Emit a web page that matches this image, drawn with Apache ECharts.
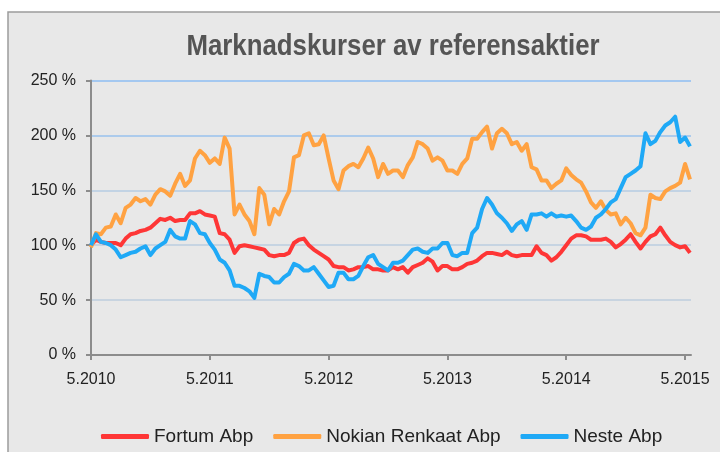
<!DOCTYPE html>
<html>
<head>
<meta charset="utf-8">
<script src="https://cdn.jsdelivr.net/npm/echarts@6/dist/echarts.min.js"></script>
<style>
  html, body { margin: 0; padding: 0; background: #fff; }
  #chart { width: 720px; height: 452px; }
</style>
</head>
<body>
<div id="chart"></div>
<script>
// värden i % (start 5.2010 = 100), avlästa varje halvmånad
const seriesNames = ['Fortum Abp', 'Nokian Renkaat Abp', 'Neste Abp'];
const yearTicks = [0, 12, 24, 36, 48, 60]; // månader efter 5.2010
const tickYears = ['5.2010', '5.2011', '5.2012', '5.2013', '5.2014', '5.2015'];

const fortum = [
  100, 105, 103, 102, 102, 102, 100, 106, 110, 111, 113, 114, 116, 120, 124, 123,
  125, 122, 123, 123, 129, 129, 131, 128, 127, 126, 111, 110, 105, 93, 99, 100,
  99, 98, 97, 96, 91, 90, 91, 91, 93, 102, 105, 106, 100, 96, 93, 90,
  87, 81, 80, 80, 77, 78, 80, 80, 81, 78, 78, 77, 77, 80, 78, 80,
  75, 80, 82, 84, 88, 85, 77, 81, 81, 78, 78, 80, 83, 84, 86, 90,
  93, 93, 92, 91, 94, 91, 90, 91, 91, 91, 99, 93, 91, 86, 89, 94,
  100, 106, 109, 109, 108, 105, 105, 105, 106, 103, 98, 101, 105, 110, 103, 97,
  103, 108, 110, 116, 109, 103, 100, 98, 99, 93
];
const nokian = [
  98, 111, 110, 116, 117, 128, 120, 134, 137, 143, 140, 142, 137, 146, 151, 149,
  145, 156, 165, 154, 159, 179, 186, 182, 175, 179, 174, 198, 188, 128, 137, 128,
  122, 110, 152, 146, 119, 133, 128, 140, 149, 180, 182, 200, 202, 191, 192, 200,
  179, 159, 151, 168, 172, 174, 171, 179, 189, 179, 162, 174, 165, 168, 168, 162,
  173, 180, 194, 192, 188, 177, 180, 177, 168, 168, 165, 174, 179, 197, 197, 203,
  208, 188, 202, 206, 202, 192, 194, 186, 192, 171, 169, 159, 159, 152, 156, 159,
  170, 164, 160, 157, 149, 139, 134, 140, 132, 128, 129, 119, 125, 120, 111, 109,
  116, 146, 143, 142, 149, 152, 154, 157, 174, 160
];
const neste = [
  100, 110, 103, 102, 100, 96, 89, 91, 93, 94, 97, 99, 91, 97, 100, 103,
  114, 108, 106, 106, 122, 119, 111, 110, 102, 96, 87, 84, 77, 63, 63, 61,
  58, 52, 74, 72, 71, 66, 66, 71, 74, 83, 81, 77, 77, 80, 74, 68,
  62, 63, 75, 75, 69, 69, 72, 81, 89, 91, 83, 80, 77, 84, 84, 86,
  91, 96, 97, 94, 93, 97, 97, 102, 102, 91, 90, 93, 93, 111, 116, 133,
  143, 137, 129, 125, 120, 113, 119, 122, 114, 128, 128, 129, 126, 129, 126, 127,
  126, 127, 122, 116, 114, 117, 125, 128, 133, 139, 142, 152, 162, 165, 168, 172,
  202, 192, 195, 203, 209, 212, 217, 194, 198, 190
];
const colors = ['#fe3636', '#ffa242', '#1fa9f6'];

// halvmånadsgrid för x
const months = fortum.map((_, i) => i * 0.5);
const pairs = arr => arr.map((v, i) => [months[i], v]);

const chart = echarts.init(document.getElementById('chart'));
const font = '"Liberation Sans", Arial, sans-serif';

chart.setOption({
  animation: false,
  backgroundColor: '#ffffff',
  graphic: [
    {
      type: 'rect',
      z: -10,
      shape: { x: 8, y: 12, width: 800, height: 520 },
      style: { fill: '#e8e8e8', stroke: '#9c9c9c', lineWidth: 1.5 }
    },
    {
      // smal fetstil som i originalet
      type: 'text',
      x: 393,
      y: 32,
      scaleX: 0.86,
      style: {
        text: 'Marknadskurser av referensaktier',
        align: 'center',
        verticalAlign: 'top',
        fontFamily: font,
        fontWeight: 'bold',
        fontSize: 30,
        fill: '#555555'
      }
    }
  ],
  legend: {
    data: seriesNames,
    left: 96,
    top: 422,
    itemWidth: 48,
    itemHeight: 5,
    itemGap: 20,
    icon: 'roundRect',
    textStyle: { fontFamily: font, fontSize: 19, color: '#222' }
  },
  grid: { left: 91, right: 29, top: 80.5, bottom: 97 },
  xAxis: {
    type: 'value',
    min: 0,
    max: 60.6,
    axisLine: { lineStyle: { color: '#8c8c8c', width: 2 } },
    axisTick: { length: 5, customValues: yearTicks, lineStyle: { color: '#8c8c8c', width: 2 } },
    axisLabel: {
      customValues: yearTicks,
      margin: 17,
      fontFamily: font, fontSize: 16, color: '#222',
      formatter: v => tickYears[yearTicks.indexOf(Math.round(v))] || ''
    },
    splitLine: { show: false }
  },
  yAxis: {
    type: 'value',
    min: 0,
    max: 250,
    interval: 50,
    axisLine: { show: true, lineStyle: { color: '#8c8c8c', width: 2 } },
    axisTick: { show: true, length: 5, lineStyle: { color: '#8c8c8c', width: 2 } },
    axisLabel: { margin: 15, fontFamily: font, fontSize: 16, color: '#222', formatter: '{value} %' },
    splitLine: {
      lineStyle: {
        width: 2,
        color: ['#c8d4e0', '#c8d4e0', '#c6d4e2', '#c2d3e4', '#accbec', '#a4c8f0']
      }
    }
  },
  series: [
    { name: seriesNames[0], type: 'line', data: pairs(fortum) },
    { name: seriesNames[1], type: 'line', data: pairs(nokian) },
    { name: seriesNames[2], type: 'line', data: pairs(neste) }
  ].map((s, i) => Object.assign(s, {
    showSymbol: false,
    symbol: 'none',
    color: colors[i],
    lineStyle: { width: 4, color: colors[i], join: 'round' }
  }))
});
</script>
</body>
</html>
